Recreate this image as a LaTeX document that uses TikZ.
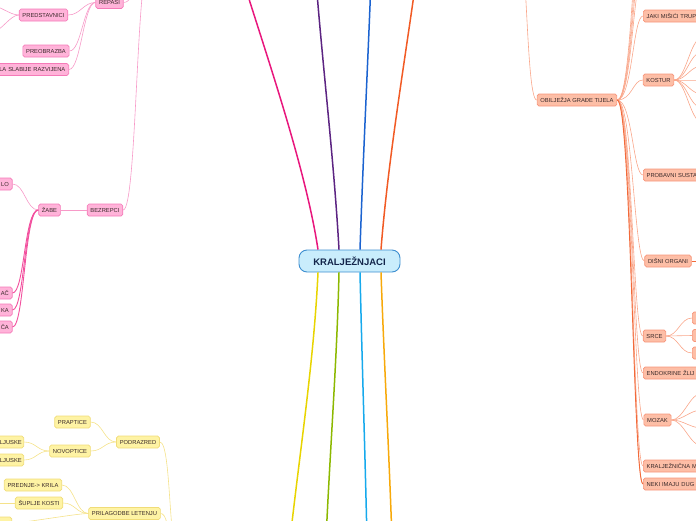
\documentclass[tikz,border=0pt]{standalone}
\usepackage{fontspec}
\setmainfont{Liberation Sans}
\definecolor{rootF}{HTML}{C9EDFC}
\definecolor{rootD}{HTML}{3D8FD0}
\definecolor{rootT}{HTML}{13254A}
\definecolor{cMag}{HTML}{E8177D}
\definecolor{cPur}{HTML}{5C2482}
\definecolor{cBlu}{HTML}{1B63D0}
\definecolor{cRed}{HTML}{F15A24}
\definecolor{cYel}{HTML}{E8D400}
\definecolor{cGrn}{HTML}{8CB800}
\definecolor{cLbl}{HTML}{16A9EC}
\definecolor{cOra}{HTML}{F7A90A}
\definecolor{pinkF}{HTML}{FFB3D9}
\definecolor{pinkD}{HTML}{F57AB8}
\definecolor{pinkL}{HTML}{F79AC8}
\definecolor{pinkS}{HTML}{F2509E}
\definecolor{yelF}{HTML}{FEF3A4}
\definecolor{yelD}{HTML}{F0DC78}
\definecolor{yelL}{HTML}{F5E28A}
\definecolor{oraF}{HTML}{FDBEA6}
\definecolor{oraD}{HTML}{F7957A}
\definecolor{oraL}{HTML}{F9A68A}
\definecolor{oraS}{HTML}{F26A3A}
\definecolor{txt}{HTML}{3A2A2A}
\begin{document}
\begin{tikzpicture}[x=1pt,y=-1pt,
  font=\fontsize{5.8}{6}\selectfont,
  box/.style={rounded corners=1.8pt, line width=0.7pt, inner xsep=3.3pt, inner ysep=0pt,
    minimum height=12pt, text height=4.3pt, text depth=0.2pt, text=txt},
  pinkbox/.style={box, fill=pinkF, draw=pinkD},
  yelbox/.style={box, fill=yelF, draw=yelD},
  orabox/.style={box, fill=oraF, draw=oraD},
  cutL/.style={anchor=east, text width=#1, align=right},
  cutR/.style={anchor=west, text width=#1, align=left},
  rootbox/.style={rounded corners=8pt, fill=rootF, draw=rootD, line width=0.9pt,
    minimum width=101pt, minimum height=22pt, inner sep=0pt, text=rootT,
    font=\fontsize{9.5}{10}\selectfont\bfseries},
  mainline/.style={line width=1.5pt},
  pinkline/.style={draw=pinkL, line width=0.6pt},
  pinkthick/.style={draw=pinkS, line width=0.9pt},
  yelline/.style={draw=yelL, line width=0.6pt},
  oraline/.style={draw=oraL, line width=0.6pt},
  orathick/.style={draw=oraS, line width=0.9pt}
]
\useasboundingbox (0,0) rectangle (696,520);
\clip (0,0) rectangle (696,520);

% ---------- root ----------
\node[rootbox] (root) at (349.5,261) {KRALJEŽNJACI};

% ---------- free ends of main branches ----------
\coordinate (mMag) at (243,-20);
\coordinate (mPur) at (316,-20);
\coordinate (mBlu) at (371,-20);
\coordinate (mRed) at (416,-20);
\coordinate (mYel) at (290,540);
\coordinate (mGrn) at (326,540);
\coordinate (mLbl) at (367,540);
\coordinate (mOra) at (392,540);

\draw[mainline, cMag] ([xshift=-31.5pt]root.north) .. controls (306,170) and (268,60) .. (mMag);
\draw[mainline, cPur] ([xshift=-10.5pt]root.north) .. controls (334,160) and (322,60) .. (mPur);
\draw[mainline, cBlu] ([xshift=10.5pt]root.north) .. controls (363,160) and (368,60) .. (mBlu);
\draw[mainline, cRed] ([xshift=31.5pt]root.north) .. controls (388,160) and (405,60) .. (mRed);
\draw[mainline, cYel] ([xshift=-31.5pt]root.south) .. controls (314,360) and (300,450) .. (mYel);
\draw[mainline, cGrn] ([xshift=-10.5pt]root.south) .. controls (337,360) and (330,450) .. (mGrn);
\draw[mainline, cLbl] ([xshift=10.5pt]root.south) .. controls (362,360) and (365,450) .. (mLbl);
\draw[mainline, cOra] ([xshift=31.5pt]root.south) .. controls (384,360) and (389,450) .. (mOra);

% ---------- pink branch ----------
\node[pinkbox] (repasi) at (109.5,2.5) {REPAŠI};
\node[pinkbox] (predst) at (43.5,15) {PREDSTAVNICI};
\node[pinkbox] (preobr) at (46,51) {PREOBRAZBA};
\node[pinkbox, cutL=75pt] (slab) at (69,69.5) {LA SLABIJE RAZVIJENA};
\node[pinkbox] (zabe) at (49.5,210) {ŽABE};
\node[pinkbox] (bezr) at (105,210) {BEZREPCI};
\node[pinkbox, cutL=30pt] (lo) at (12.5,184) {LO};
\node[pinkbox, cutL=30pt] (ac) at (12.5,293) {AČ};
\node[pinkbox, cutL=30pt] (ka) at (12.5,310) {KA};
\node[pinkbox, cutL=30pt] (ca) at (12.5,327) {ČA};
\coordinate (pvodo) at (150,-40);
\coordinate (pl1) at (-8,6);
\coordinate (pl2) at (-8,32);

\draw[pinkline] (repasi.east) .. controls +(14,0) and +(-14,0) .. (pvodo);
\draw[pinkline] (bezr.east) .. controls +(14,0) and +(-14,0) .. (pvodo);
\draw[pinkline] (repasi.west) .. controls +(-12,0) and +(12,0) .. (predst.east);
\draw[pinkline] (repasi.west) .. controls +(-12,0) and +(12,0) .. (preobr.east);
\draw[pinkline] (repasi.west) .. controls +(-12,0) and +(12,0) .. (slab.east);
\draw[pinkline] (predst.west) .. controls +(-9,0) and +(9,0) .. (pl1);
\draw[pinkline] (predst.west) .. controls +(-9,0) and +(9,0) .. (pl2);
\draw[pinkline] (bezr.west) -- (zabe.east);
\draw[pinkline] (zabe.west) .. controls +(-12,0) and +(12,0) .. (lo.east);
\draw[pinkthick] (zabe.west) .. controls +(-14,0) and +(12,0) .. (ac.east);
\draw[pinkthick] (zabe.west) .. controls +(-14,0) and +(12,0) .. (ka.east);
\draw[pinkthick] (zabe.west) .. controls +(-14,0) and +(12,0) .. (ca.east);

% ---------- yellow branch ----------
\node[yelbox] (prapt) at (72.5,422) {PRAPTICE};
\node[yelbox] (novo) at (70,451) {NOVOPTICE};
\node[yelbox] (podr) at (138,442) {PODRAZRED};
\node[yelbox, cutL=30pt, inner xsep=1.8pt] (lj1) at (24,442) {LJUSKE};
\node[yelbox, cutL=30pt, inner xsep=1.8pt] (lj2) at (24,460) {LJUSKE};
\node[yelbox] (predn) at (33,485) {PREDNJE-> KRILA};
\node[yelbox] (supl) at (39,503) {ŠUPLJE KOSTI};
\node[yelbox] (prilag) at (124.5,513.5) {PRILAGODBE LETENJU};
\node[yelbox, cutL=20pt] (ybot) at (12,523) {};
\coordinate (ypar) at (180,560);
\coordinate (ysl) at (-8,503);

\draw[yelline] (podr.west) .. controls +(-12,0) and +(12,0) .. (prapt.east);
\draw[yelline] (podr.west) .. controls +(-12,0) and +(12,0) .. (novo.east);
\draw[yelline] (novo.west) .. controls +(-12,0) and +(12,0) .. (lj1.east);
\draw[yelline] (novo.west) .. controls +(-12,0) and +(12,0) .. (lj2.east);
\draw[yelline] (prilag.west) .. controls +(-12,0) and +(12,0) .. (predn.east);
\draw[yelline] (prilag.west) .. controls +(-12,0) and +(12,0) .. (supl.east);
\draw[yelline] (prilag.west) .. controls +(-12,0) and +(12,0) .. (ybot.east);
\draw[yelline] (supl.west) -- (ysl);
\draw[yelline] (podr.east) .. controls +(12,0) and +(-12,0) .. (ypar);
\draw[yelline] (prilag.east) .. controls +(10,0) and +(-12,0) .. (ypar);

% ---------- orange branch ----------
\node[orabox] (obil) at (577,100) {OBILJEŽJA GRAĐE TIJELA};
\node[orabox, cutR=62pt] (jaki) at (643,16) {JAKI MIŠIĆI TRUP};
\node[orabox] (kostur) at (658.5,80) {KOSTUR};
\node[orabox, cutR=62pt] (probav) at (643,175) {PROBAVNI SUSTA};
\node[orabox] (disni) at (668,261) {DIŠNI ORGANI};
\node[orabox] (srce) at (654.5,336) {SRCE};
\node[orabox, cutR=62pt] (endo) at (643,373) {ENDOKRINE ŽLIJ};
\node[orabox] (mozak) at (657.5,420) {MOZAK};
\node[orabox, cutR=62pt] (kralj) at (643,466) {KRALJEŽNIČNA M};
\node[orabox, cutR=62pt] (neki) at (643,484) {NEKI IMAJU DUG};
\node[orabox, cutR=20pt] (s1) at (692,318) {};
\node[orabox, cutR=20pt] (s2) at (692,335.5) {};
\node[orabox, cutR=20pt] (s3) at (692,353) {};

\coordinate (opar) at (512,-100);
\coordinate (ou1) at (643,-25);
\coordinate (ou2) at (643,-45);
\coordinate (ou3) at (643,-65);
\coordinate (ou4) at (643,-90);

\draw[oraline] (opar) .. controls +(16,0) and +(-12,0) .. (obil.west);
\foreach \c in {ou1,ou2,ou3,ou4}
  \draw[oraline] (obil.east) .. controls +(15,0) and +(-10,0) .. (\c);
\foreach \c in {jaki,kostur,probav,disni,srce,endo,mozak,kralj,neki}
  \draw[oraline] (obil.east) .. controls +(15,0) and +(-10,0) .. (\c.west);
\draw[orathick] (obil.east) .. controls +(14,0) and +(-10,0) .. (neki.west);

\foreach \y [count=\i] in {38,52,66,80,94,108,122}
  \coordinate (kf\i) at (702,\y);
\foreach \i in {1,...,7}
  \draw[oraline] (kostur.east) .. controls +(12,0) and +(-12,0) .. (kf\i);
\foreach \c in {s1,s2,s3}
  \draw[oraline] (srce.east) .. controls +(12,0) and +(-12,0) .. (\c.west);
\foreach \y [count=\i] in {393,410,428,446}
  \coordinate (mf\i) at (702,\y);
\foreach \i in {1,...,4}
  \draw[oraline] (mozak.east) .. controls +(12,0) and +(-12,0) .. (mf\i);
\coordinate (dend) at (702,261);
\draw[orathick] (disni.east) -- (dend);
\end{tikzpicture}
\end{document}
